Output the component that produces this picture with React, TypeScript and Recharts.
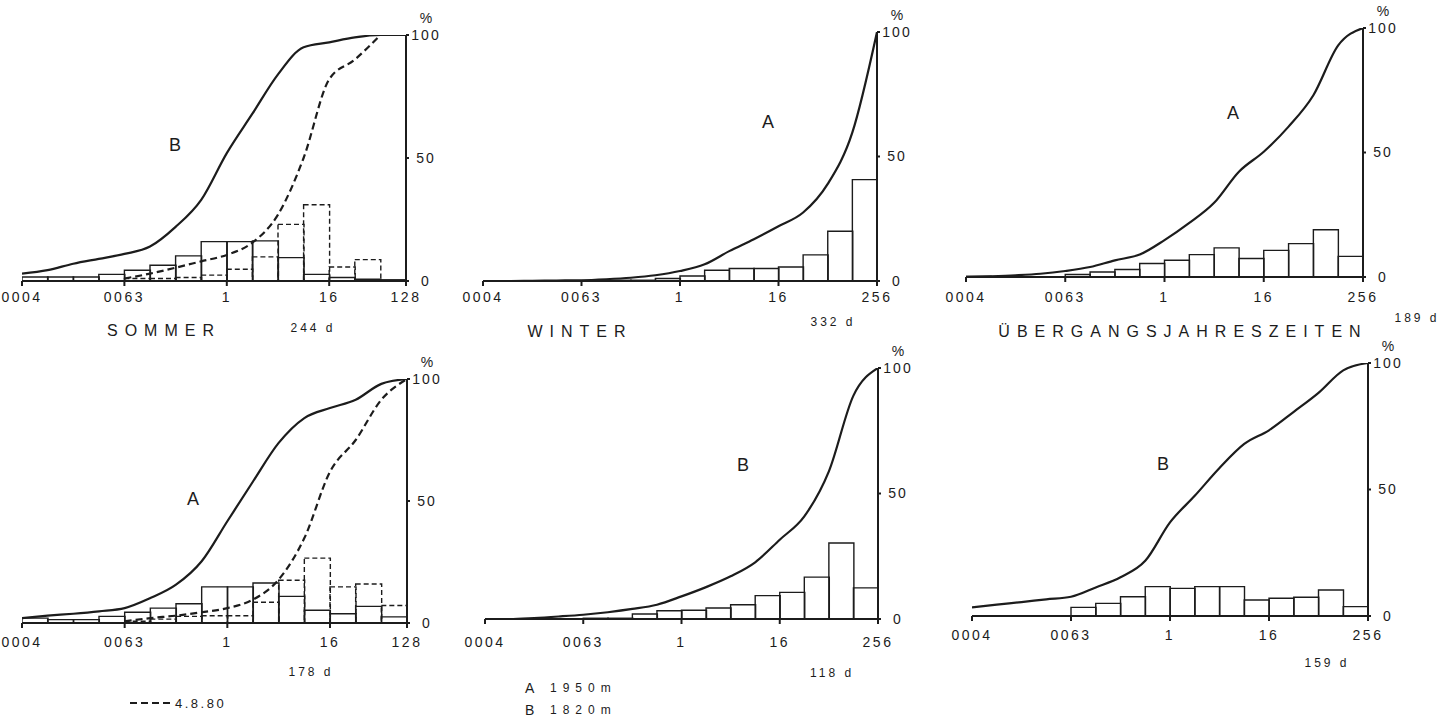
import React from "react"
import { Bar, ComposedChart, Line, XAxis, YAxis } from "recharts"

const FONT = '"Liberation Sans", Arial, Helvetica, sans-serif'
const INK = "#1c1c1c"

// x positions are phi-class edges; ticks at the labelled grain sizes
const ticks15 = [0, 4, 8, 12, 15]
const ticks16 = [0, 4, 8, 12, 16]
const labels128 = ["0004", "0063", "1", "16", "128"]
const labels256 = ["0004", "0063", "1", "16", "256"]
const yTicks = [0, 50, 100]

// SOMMER, B (solid) and 4.8.80 (dashed)
const sommerBHist = [1.6, 1.6, 1.6, 2.7, 4.4, 6.4, 10.2, 16, 16, 16.3, 9.5, 2.7, 1.4, 0.7, 0.5]
const sommerBCum = [3, 4.4, 7, 9, 11, 14, 22, 33, 52, 68, 84, 95, 97, 99, 100, 100]
const sommerBHistDash = [null, null, null, null, 1, 1, 1.4, 2.4, 4.8, 9.8, 23, 31, 5.7, 8.7, null]
const sommerBCumDash = [null, null, null, null, 1, 3, 5.4, 8, 10.6, 15.6, 27, 50, 82, 90, 100, null]

// WINTER, A
const winterAHist = [0, 0, 0, 0, 0, 0.3, 0.3, 1, 2, 4.3, 5, 5, 5.6, 10.5, 20, 40.7]
const winterACum = [0, 0, 0.1, 0.2, 0.3, 0.7, 1.3, 2.3, 4, 6.7, 12, 16.8, 22, 27.5, 39, 59.7, 100]

// UEBERGANGSJAHRESZEITEN, A
const uebergangAHist = [0.3, 0, 0, 0, 1, 2, 3, 5.4, 6.7, 9, 11.7, 7.4, 10.7, 13.4, 19, 8.3]
const uebergangACum = [0, 0.3, 0.7, 1.3, 2.4, 4, 6.7, 9, 14.8, 21.7, 29.8, 42.3, 50.3, 60.4, 73, 93, 100]

// SOMMER, A (solid) and 4.8.80 (dashed)
const sommerAHist = [2, 1.4, 1.4, 2.7, 4.4, 6.1, 7.9, 14.8, 14.8, 16.4, 10.9, 5.2, 3.8, 6.8, 2.5]
const sommerACum = [2, 3, 3.8, 4.8, 6.1, 10.2, 15.7, 25.3, 41.7, 58, 73.8, 84, 88.1, 91.5, 98, 100]
const sommerAHistDash = [null, null, null, null, 0.7, 1.6, 2.7, 3, 3, 8.5, 17.5, 26.6, 14.8, 16, 7.2]
const sommerACumDash = [null, null, null, null, 0.7, 2, 3, 4.4, 6.1, 9.6, 17.8, 34.8, 62, 75, 91.5, 100]

// WINTER, B
const winterBHist = [0, 0, 0, 0, 0.3, 0.3, 2, 3.3, 3.5, 4.4, 5.7, 9.3, 10.6, 16.7, 30.3, 12.4]
const winterBCum = [0, 0, 0.4, 1, 1.7, 2.7, 4, 5.7, 9, 12.7, 17, 22.6, 31.6, 40.9, 58.8, 89, 100]

// UEBERGANGSJAHRESZEITEN, B
const uebergangBHist = [0, 0, 0, 0, 3.4, 5, 7.6, 11.6, 10.9, 11.6, 11.6, 6.3, 7, 7.4, 10.3, 3.7]
const uebergangBCum = [3.4, 4.5, 5.5, 6.6, 7.6, 11.3, 15.3, 21.8, 37, 47.5, 58.5, 68, 73.4, 80.7, 88.2, 97.1, 100]

type PanelProps = {
  left: number
  right: number
  top: number
  bottom: number
  labelGap: number
  ticks: number[]
  labels: string[]
  hist: number[]
  cum: number[]
  histDash?: (number | null)[]
  cumDash?: (number | null)[]
}

const M = { top: 30, left: 30, right: 0, bottom: 0 }
const X_H = 40
const Y_W = 50

const Panel = (p: PanelProps) => {
  const w = p.right - p.left + M.left + Y_W
  const h = p.bottom - p.top + M.top + X_H
  const bins = p.hist.length
  const barRows = p.hist.map((v, i) => ({
    x: i + 0.5,
    h: v,
    hd: p.histDash ? p.histDash[i] : null,
  }))
  const lineRows = p.cum.map((v, i) => ({
    x: i,
    c: v,
    cd: p.cumDash ? p.cumDash[i] : null,
  }))

  const xTick = (props: any) => {
    const idx = p.ticks.indexOf(props.payload.value)
    return (
      <text
        x={props.x}
        y={props.y - 7 + p.labelGap}
        dy="0.35em"
        textAnchor="middle"
        fontSize={14}
        letterSpacing={2.5}
        fill={INK}
        fontFamily={FONT}
      >
        {p.labels[idx]}
      </text>
    )
  }

  const yTick = (props: any) => (
    <g>
      <text
        x={props.x + 15}
        y={props.y}
        dy="0.35em"
        textAnchor="middle"
        fontSize={14}
        letterSpacing={2}
        fill={INK}
        fontFamily={FONT}
      >
        {props.payload.value}
      </text>
      {props.payload.value === 100 && (
        <text
          x={props.x + 15}
          y={props.y - 17}
          dy="0.35em"
          textAnchor="middle"
          fontSize={14}
          fill={INK}
          fontFamily={FONT}
        >
          %
        </text>
      )}
    </g>
  )

  return (
    <div
      style={{
        position: "absolute",
        left: p.left - M.left,
        top: p.top - M.top,
        width: w,
        height: h,
      }}
    >
      <ComposedChart
        width={w}
        height={h}
        data={barRows}
        margin={M}
        barCategoryGap={0}
        barGap={0}
      >
        <XAxis
          xAxisId="x"
          dataKey="x"
          type="number"
          domain={[0, bins]}
          ticks={p.ticks}
          allowDataOverflow
          height={X_H}
          stroke={INK}
          strokeWidth={2}
          tickSize={5}
          tick={xTick}
        />
        <XAxis xAxisId="xd" dataKey="x" type="number" domain={[0, bins]} allowDataOverflow hide />
        <XAxis xAxisId="xl" dataKey="x" type="number" domain={[0, bins]} allowDataOverflow hide />
        <YAxis
          orientation="right"
          type="number"
          domain={[0, 100]}
          ticks={yTicks}
          allowDataOverflow
          width={Y_W}
          stroke={INK}
          strokeWidth={2}
          tickSize={3}
          tick={yTick}
        />
        <Bar
          xAxisId="x"
          dataKey="h"
          fill="none"
          stroke={INK}
          strokeWidth={1.4}
          isAnimationActive={false}
        />
        {p.histDash && (
          <Bar
            xAxisId="xd"
            dataKey="hd"
            fill="none"
            stroke={INK}
            strokeWidth={1.4}
            strokeDasharray="5 3"
            isAnimationActive={false}
          />
        )}
        <Line
          xAxisId="xl"
          data={lineRows}
          dataKey="c"
          type="monotone"
          stroke={INK}
          strokeWidth={2.2}
          dot={false}
          isAnimationActive={false}
        />
        {p.cumDash && (
          <Line
            xAxisId="xl"
            data={lineRows}
            dataKey="cd"
            type="monotone"
            stroke={INK}
            strokeWidth={2.2}
            strokeDasharray="7 4"
            dot={false}
            isAnimationActive={false}
          />
        )}
      </ComposedChart>
    </div>
  )
}

const txt = {
  fill: INK,
  fontFamily: FONT,
}

export default function App() {
  return (
    <div
      style={{
        position: "absolute",
        left: 0,
        top: 0,
        width: 1453,
        height: 724,
        background: "#fff",
        overflow: "hidden",
      }}
    >
      <Panel left={22} right={406} top={35} bottom={281} labelGap={16} ticks={ticks15} labels={labels128}
        hist={sommerBHist} cum={sommerBCum} histDash={sommerBHistDash} cumDash={sommerBCumDash} />
      <Panel left={483} right={877} top={32} bottom={281} labelGap={16} ticks={ticks16} labels={labels256}
        hist={winterAHist} cum={winterACum} />
      <Panel left={966} right={1363} top={28} bottom={277} labelGap={20} ticks={ticks16} labels={labels256}
        hist={uebergangAHist} cum={uebergangACum} />
      <Panel left={22} right={407} top={379} bottom={623} labelGap={19} ticks={ticks15} labels={labels128}
        hist={sommerAHist} cum={sommerACum} histDash={sommerAHistDash} cumDash={sommerACumDash} />
      <Panel left={485} right={878} top={368} bottom={619} labelGap={23} ticks={ticks16} labels={labels256}
        hist={winterBHist} cum={winterBCum} />
      <Panel left={972} right={1368} top={363} bottom={616} labelGap={19} ticks={ticks16} labels={labels256}
        hist={uebergangBHist} cum={uebergangBCum} />

      <svg
        width={1453}
        height={724}
        style={{ position: "absolute", left: 0, top: 0, pointerEvents: "none" }}
      >
        {/* panel letters */}
        <g {...txt} fontSize={18} textAnchor="middle" dominantBaseline="central">
          <text x={175} y={145}>B</text>
          <text x={768} y={122}>A</text>
          <text x={1233} y={113}>A</text>
          <text x={193} y={499}>A</text>
          <text x={743} y={465}>B</text>
          <text x={1163} y={464}>B</text>
        </g>
        {/* season titles */}
        <g {...txt} fontSize={16} letterSpacing={7} textAnchor="middle" dominantBaseline="central">
          <text x={164} y={330}>SOMMER</text>
          <text x={580} y={331}>WINTER</text>
          <text x={1183} y={331}>ÜBERGANGSJAHRESZEITEN</text>
        </g>
        {/* day counts */}
        <g {...txt} fontSize={12} letterSpacing={3} textAnchor="middle" dominantBaseline="central">
          <text x={313} y={328}>244 d</text>
          <text x={833} y={322}>332 d</text>
          <text x={1417} y={318}>189 d</text>
          <text x={311} y={672}>178 d</text>
          <text x={832} y={673}>118 d</text>
          <text x={1327} y={663}>159 d</text>
        </g>
        {/* legend */}
        <line x1={130} y1={703} x2={170} y2={703} stroke={INK} strokeWidth={2} strokeDasharray="7 4" />
        <text {...txt} x={175} y={703} fontSize={13} letterSpacing={2.5} dominantBaseline="central">
          4.8.80
        </text>
        <g {...txt} dominantBaseline="central">
          <text x={525} y={688} fontSize={14}>
            A<tspan x={550} fontSize={12} letterSpacing={6}>1950m</tspan>
          </text>
          <text x={525} y={710} fontSize={14}>
            B<tspan x={550} fontSize={12} letterSpacing={6}>1820m</tspan>
          </text>
        </g>
      </svg>
    </div>
  )
}
